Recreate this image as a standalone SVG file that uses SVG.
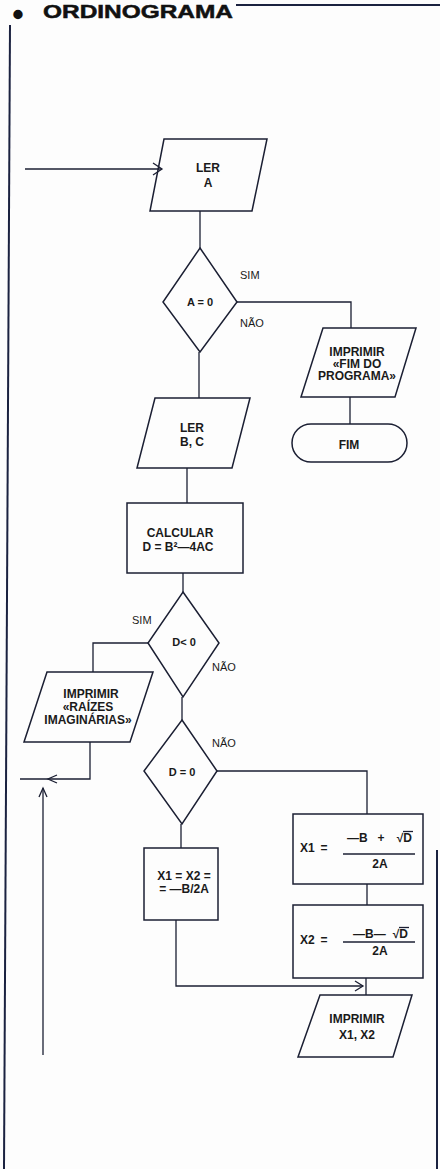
<svg xmlns="http://www.w3.org/2000/svg" width="440" height="1169" viewBox="0 0 440 1169">
<style>
.s{fill:none;stroke:#1b1f33;stroke-width:1.5;stroke-linejoin:miter}
.c{fill:none;stroke:#1b1f33;stroke-width:1.3}
.f{fill:none;stroke:#1b2240;stroke-width:2}
.t{font-family:"Liberation Sans",Arial,Helvetica,sans-serif;font-weight:bold;font-size:12px;fill:#1a1a1a;text-anchor:middle}
.st{text-anchor:start}
.en{text-anchor:end}
.sm{font-size:11px}
.l{font-family:"Liberation Sans",Arial,Helvetica,sans-serif;font-size:11px;fill:#1a1a1a}
.ti{font-family:"Liberation Sans",Arial,Helvetica,sans-serif;font-weight:bold;font-size:18.5px;fill:#111;stroke:#111;stroke-width:0.5}
.bu{font-family:"Liberation Sans",Arial,Helvetica,sans-serif;font-weight:bold;font-size:24px;fill:#111;stroke:#111;stroke-width:2.5;stroke-linejoin:round;text-anchor:middle}
</style>
<rect x="0" y="0" width="440" height="1169" fill="#fdfdfd"/>
<g id="frame">
<line class="f" x1="236" y1="5" x2="440" y2="5" stroke-width="1.5"/>
<line class="f" x1="10" y1="25" x2="4" y2="1169"/>
<line class="f" x1="437" y1="850" x2="437" y2="1169" stroke-width="1.5"/>
<text class="bu" x="18" y="21.5">•</text>
<text class="ti" x="43" y="18" textLength="190" lengthAdjust="spacingAndGlyphs">ORDINOGRAMA</text>
</g>
<g id="connectors">
<path class="c" d="M25,169 H162"/>
<path class="c" d="M153,163 L162,169 L153,175"/>
<path class="c" d="M200,211 V248"/>
<path class="c" d="M237,302 H351 V328"/>
<path class="c" d="M350,397 V424"/>
<path class="c" d="M199,352 V398"/>
<path class="c" d="M187,468 V503"/>
<path class="c" d="M183,573 V592"/>
<path class="c" d="M148,643 H93 V672"/>
<path class="c" d="M90,742 V779 H20"/>
<path class="c" d="M57,775 L48,779 L57,783"/>
<path class="c" d="M43,1055 V788"/>
<path class="c" d="M39,797 L43,788 L47,797"/>
<path class="c" d="M182,697 V720"/>
<path class="c" d="M217,771 H367 V814"/>
<path class="c" d="M181,824 V848"/>
<path class="c" d="M367,884 V905"/>
<path class="c" d="M176,920 V986 H363"/>
<path class="c" d="M355,981 L363,986 L355,991"/>
<path class="c" d="M366,978 V995"/>
</g>
<g id="ler_a">
<polygon class="s" points="164,139 267,139 252,211 150,211"/>
<text class="t" x="208" y="172">LER</text>
<text class="t" x="208" y="187">A</text>
</g>
<g id="decisao_a0">
<polygon class="s" points="200,248 237,302 200,352 163,302"/>
<text class="t sm" x="200" y="306">A = 0</text>
<text class="l" x="240" y="279">SIM</text>
<text class="l" x="240" y="327">NÃO</text>
</g>
<g id="imprimir_fim">
<polygon class="s" points="323,328 416,328 395,397 301,397"/>
<text class="t" x="357" y="356">IMPRIMIR</text>
<text class="t" x="357" y="368">«FIM DO</text>
<text class="t" x="357" y="380">PROGRAMA»</text>
</g>
<g id="fim">
<rect class="s" x="292" y="424" width="115" height="38" rx="19" ry="19"/>
<text class="t" x="349" y="449">FIM</text>
</g>
<g id="ler_bc">
<polygon class="s" points="155,398 250,398 232,468 137,468"/>
<text class="t" x="192" y="432">LER</text>
<text class="t" x="192" y="446">B, C</text>
</g>
<g id="calcular">
<rect class="s" x="127" y="503" width="116" height="70"/>
<text class="t" x="180" y="537">CALCULAR</text>
<text class="t" x="178" y="551">D = B²—4AC</text>
</g>
<g id="decisao_dlt0">
<polygon class="s" points="183,592 219,643 183,697 148,643"/>
<text class="t sm" x="184" y="646">D&lt; 0</text>
<text class="l" x="132" y="624">SIM</text>
<text class="l" x="212" y="671">NÃO</text>
</g>
<g id="imprimir_raizes">
<polygon class="s" points="47,672 153,672 130,742 24,742"/>
<text class="t" x="91" y="698">IMPRIMIR</text>
<text class="t" x="88" y="711">«RAÍZES</text>
<text class="t" x="88" y="724">IMAGINÁRIAS»</text>
</g>
<g id="decisao_deq0">
<polygon class="s" points="182,720 217,771 182,824 144,771"/>
<text class="t sm" x="182" y="776">D = 0</text>
<text class="l" x="212" y="747">NÃO</text>
</g>
<g id="x1x2_iguais">
<rect class="s" x="144" y="848" width="74" height="72"/>
<text class="t" x="184" y="880">X1 = X2 =</text>
<text class="t" x="184" y="893">= —B/2A</text>
</g>
<g id="x1">
<rect class="s" x="293" y="814" width="130" height="70"/>
<text class="t st" x="300" y="852">X1</text>
<text class="t" x="324" y="852">=</text>
<text class="t st" x="347" y="842">—B</text>
<text class="t" x="381" y="842">+</text>
<text class="t en" x="412" y="842">√D</text>
<line class="c" x1="403" y1="831.5" x2="413" y2="831.5" stroke-width="1.2"/>
<line class="c" x1="343" y1="854" x2="415" y2="854"/>
<text class="t" x="380" y="868">2A</text>
</g>
<g id="x2">
<rect class="s" x="293" y="905" width="130" height="73"/>
<text class="t st" x="300" y="944">X2</text>
<text class="t" x="324" y="944">=</text>
<text class="t st" x="353" y="938">—B—</text>
<text class="t en" x="408" y="938">√D</text>
<line class="c" x1="399" y1="927.5" x2="409" y2="927.5" stroke-width="1.2"/>
<line class="c" x1="343" y1="942" x2="415" y2="942"/>
<text class="t" x="380" y="955">2A</text>
</g>
<g id="imprimir_x1x2">
<polygon class="s" points="320,995 412,995 393,1057 298,1057"/>
<text class="t" x="357" y="1023">IMPRIMIR</text>
<text class="t" x="357" y="1039">X1, X2</text>
</g>
</svg>
